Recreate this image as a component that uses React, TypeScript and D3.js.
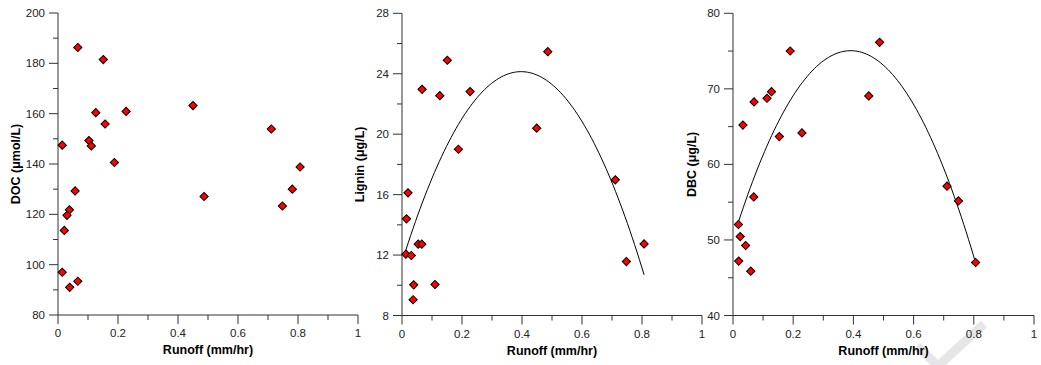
import React from 'react';
import { scaleLinear, line, range, symbol, symbolSquare } from 'd3';

// runoff (mm/hr) vs concentration
const docRunoff = [0.014, 0.066, 0.151, 0.126, 0.227, 0.45, 0.157, 0.103, 0.111, 0.188, 0.711, 0.807,
  0.057, 0.038, 0.03, 0.021, 0.014, 0.039, 0.066, 0.487, 0.748, 0.781];
const docValues = [147.5, 186.3, 181.5, 160.4, 160.9, 163.2, 155.9, 149.3, 147.2, 140.6, 153.9, 138.8,
  129.3, 121.8, 119.6, 113.6, 97.0, 91.0, 93.4, 127.1, 123.3, 130.0];

const ligninRunoff = [0.067, 0.126, 0.151, 0.227, 0.188, 0.486, 0.449, 0.711, 0.02, 0.015, 0.013,
  0.031, 0.054, 0.066, 0.039, 0.037, 0.11, 0.807, 0.748];
const ligninValues = [22.97, 22.55, 24.89, 22.82, 19.0, 25.46, 20.4, 16.98, 16.12, 14.4, 12.06,
  11.97, 12.72, 12.72, 10.03, 9.04, 10.05, 12.74, 11.57];

const dbcRunoff = [0.033, 0.07, 0.113, 0.128, 0.19, 0.154, 0.229, 0.487, 0.451, 0.711, 0.749, 0.806,
  0.018, 0.024, 0.042, 0.019, 0.059, 0.069];
const dbcValues = [65.2, 68.27, 68.76, 69.63, 75.01, 63.68, 64.17, 76.16, 69.06, 57.12, 55.17, 47.01,
  52.04, 50.45, 49.26, 47.2, 45.87, 55.7];

// quadratic fits y = c0 + c1 x + c2 x^2, and the runoff span they are drawn over
const ligninFit = [11.53, 63.52, -80];
const ligninFitSpan = [0.013, 0.807];
const dbcFit = [50.13, 127.47, -163];
const dbcFitSpan = [0.018, 0.806];

const xTicks = [0, 0.2, 0.4, 0.6, 0.8, 1];
const xMinor = [0.1, 0.3, 0.5, 0.7, 0.9];
const docTicks = [80, 100, 120, 140, 160, 180, 200];
const ligninTicks = [8, 12, 16, 20, 24, 28];
const dbcTicks = [40, 50, 60, 70, 80];

const FONT = '"Liberation Sans", Arial, sans-serif';
const AXIS = '#333';

type PanelProps = {
  x0: number;
  x1: number;
  top: number;
  bottom: number;
  yTicks: number[];
  title: string;
  titleX: number;
  xs: number[];
  ys: number[];
  fit?: number[];
  fitSpan?: number[];
};

// square turned 45 degrees, like the original markers
const diamond = symbol().type(symbolSquare).size(34)();

const Panel = ({ x0, x1, top, bottom, yTicks, title, titleX, xs, ys, fit, fitSpan }: PanelProps) => {
  const x = scaleLinear().domain([0, 1]).range([x0, x1]);
  const y = scaleLinear().domain([yTicks[0], yTicks[yTicks.length - 1]]).range([bottom, top]);
  const step = yTicks[1] - yTicks[0];
  const yMinor = yTicks.slice(0, -1).map((t) => t + step / 2);

  let curve = null;
  if (fit && fitSpan) {
    const pts = range(0, 101).map((i) => fitSpan[0] + ((fitSpan[1] - fitSpan[0]) * i) / 100);
    const path = line<number>()
      .x((d) => x(d))
      .y((d) => y(fit[0] + fit[1] * d + fit[2] * d * d));
    curve = <path d={path(pts) || ''} fill="none" stroke="#000" strokeWidth={1} />;
  }

  return (
    <g fontFamily={FONT}>
      {/* axes */}
      <line x1={x0} x2={x0} y1={top} y2={bottom} stroke={AXIS} />
      <line x1={x0} x2={x1} y1={bottom} y2={bottom} stroke={AXIS} />
      {yTicks.map((t) => (
        <g key={'y' + t}>
          <line x1={x0 - 9} x2={x0} y1={y(t)} y2={y(t)} stroke={AXIS} />
          <text x={x0 - 13} y={y(t) + 4} fontSize={11.5} textAnchor="end" fill="#222">
            {t}
          </text>
        </g>
      ))}
      {yMinor.map((t) => (
        <line key={'ym' + t} x1={x0 - 5} x2={x0} y1={y(t)} y2={y(t)} stroke={AXIS} />
      ))}
      {xTicks.map((t) => (
        <g key={'x' + t}>
          <line x1={x(t)} x2={x(t)} y1={bottom} y2={bottom + 9} stroke={AXIS} />
          <text x={x(t)} y={bottom + 22} fontSize={11.5} textAnchor="middle" fill="#222">
            {t}
          </text>
        </g>
      ))}
      {xMinor.map((t) => (
        <line key={'xm' + t} x1={x(t)} x2={x(t)} y1={bottom} y2={bottom + 5} stroke={AXIS} />
      ))}
      <text x={(x0 + x1) / 2} y={bottom + 39} fontSize={12.5} fontWeight="bold" textAnchor="middle">
        Runoff (mm/hr)
      </text>
      <text
        transform={`translate(${titleX},${(top + bottom) / 2}) rotate(-90)`}
        fontSize={12.5}
        fontWeight="bold"
        textAnchor="middle"
        dy="0.35em"
      >
        {title}
      </text>

      {curve}

      {xs.map((d, i) => (
        <path
          key={i}
          d={diamond || ''}
          transform={`translate(${x(d)},${y(ys[i])}) rotate(45)`}
          fill="#ff0000"
          stroke="#000"
          strokeWidth={1}
        />
      ))}
    </g>
  );
};

const App = () => {
  const width = 1041;
  const height = 365;
  return (
    <svg
      width={width}
      height={height}
      style={{ position: 'absolute', left: 0, top: 0, background: '#fff' }}
    >
      <rect width={width} height={height} fill="#fff" />
      {/* faint watermark tick in the lower right, behind everything */}
      <polyline points="917,346 938,366 984,324" fill="none" stroke="#e6e6e6" strokeWidth={9} />
      <Panel x0={58} x1={358} top={13} bottom={315} yTicks={docTicks} title="DOC (μmol/L)" titleX={16}
        xs={docRunoff} ys={docValues} />
      <Panel x0={402} x1={702} top={13.3} bottom={315.5} yTicks={ligninTicks} title="Lignin (μg/L)" titleX={360}
        xs={ligninRunoff} ys={ligninValues} fit={ligninFit} fitSpan={ligninFitSpan} />
      <Panel x0={733} x1={1034} top={13.3} bottom={315.5} yTicks={dbcTicks} title="DBC (μg/L)" titleX={692}
        xs={dbcRunoff} ys={dbcValues} fit={dbcFit} fitSpan={dbcFitSpan} />
    </svg>
  );
};

export default App;
